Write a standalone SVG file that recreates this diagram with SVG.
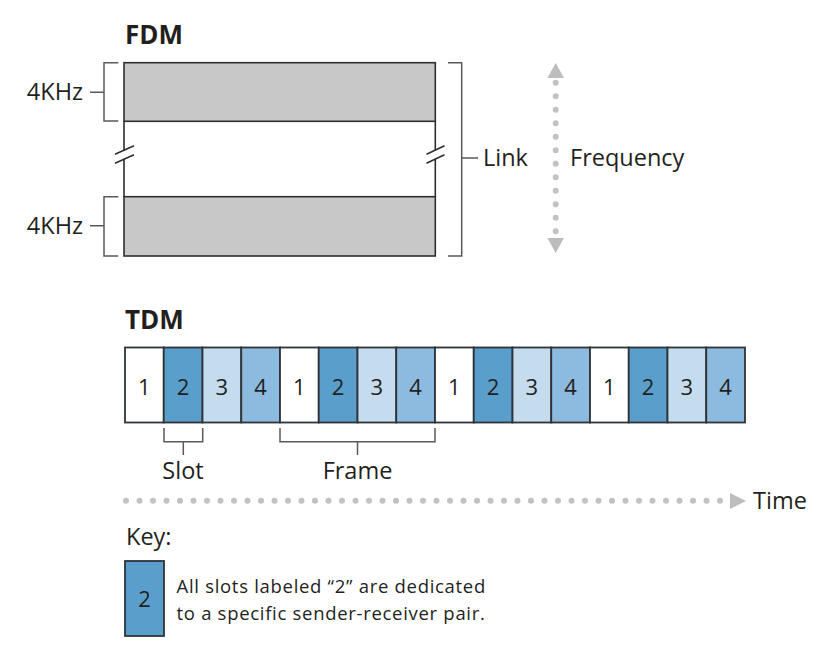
<svg xmlns="http://www.w3.org/2000/svg" width="832" height="661" viewBox="0 0 832 661">
<style>
text{font-family:"Open Sans","Noto Sans","DejaVu Sans",sans-serif;fill:#231f20}
.h{font-weight:bold;font-size:26px}
.l{font-size:23.5px}
.n{font-size:22px;text-anchor:middle}
.k{font-size:18.5px;letter-spacing:0.7px}
.band{fill:#c8c8c8;stroke:#2e2e2e;stroke-width:1.6}
.edge{fill:none;stroke:#2e2e2e;stroke-width:1.6}
.br{fill:none;stroke:#5a5a5a;stroke-width:1.5}
.slot{stroke:#2e3338;stroke-width:1.8}
.s1{fill:#ffffff}.s2{fill:#5a9fcb}.s3{fill:#c5dcee}.s4{fill:#8dbbdf}
.dots{fill:none;stroke:#c2c2c2;stroke-width:6;stroke-linecap:round;stroke-dasharray:0 13.5}
.ah{fill:#bdbdbd}
</style>

<g id="fdm">
<text class="h" x="125" y="44">FDM</text>
<rect id="band-top" class="band" x="124" y="62.7" width="311.3" height="58.6"/>
<rect id="band-bottom" class="band" x="124" y="196.7" width="311.3" height="59.3"/>
<path class="edge" d="M124,121.3V150.2M124,158.8V196.7M435.3,121.3V150.2M435.3,158.8V196.7"/>
<path class="edge" d="M115,154.2L134,145.8M115,163.2L134,154.8M426.5,154.2L444.5,145.8M426.5,163.2L444.5,154.8"/>
</g>

<g id="label-4khz-top">
<path class="br" d="M118.3,62.7H104V121H118.3M90,92.3H104"/>
<text class="l" x="83" y="99.5" text-anchor="end">4KHz</text>
</g>
<g id="label-4khz-bottom">
<path class="br" d="M118.3,196.7H104V256H118.3M90,225.7H104"/>
<text class="l" x="83" y="233.5" text-anchor="end">4KHz</text>
</g>
<g id="label-link">
<path class="br" d="M448,62.7H461.7V256H448M461.7,158H478"/>
<text class="l" x="483" y="165.5">Link</text>
</g>

<g id="connectors">
<g id="frequency-axis">
<path class="dots" d="M555.7,82.7V232"/>
<path class="ah" d="M555.7,63L564,78H547.4Z"/>
<path class="ah" d="M547.4,238H564L555.7,253Z"/>
</g>
<g id="time-axis">
<path class="dots" d="M126,500.7H721"/>
<path class="ah" d="M730,493L746,501L730,509Z"/>
</g>
</g>
<g id="label-frequency"><text class="l" x="570" y="165.5">Frequency</text></g>
<g id="label-time"><text class="l" x="753" y="508.5">Time</text></g>

<g id="tdm">
<text class="h" x="125" y="328.5">TDM</text>
<g id="slots">
<rect class="slot s1" x="125" y="347.5" width="38.75" height="75"/>
<rect class="slot s2" x="163.75" y="347.5" width="38.75" height="75"/>
<rect class="slot s3" x="202.5" y="347.5" width="38.75" height="75"/>
<rect class="slot s4" x="241.25" y="347.5" width="38.75" height="75"/>
<rect class="slot s1" x="280" y="347.5" width="38.75" height="75"/>
<rect class="slot s2" x="318.75" y="347.5" width="38.75" height="75"/>
<rect class="slot s3" x="357.5" y="347.5" width="38.75" height="75"/>
<rect class="slot s4" x="396.25" y="347.5" width="38.75" height="75"/>
<rect class="slot s1" x="435" y="347.5" width="38.75" height="75"/>
<rect class="slot s2" x="473.75" y="347.5" width="38.75" height="75"/>
<rect class="slot s3" x="512.5" y="347.5" width="38.75" height="75"/>
<rect class="slot s4" x="551.25" y="347.5" width="38.75" height="75"/>
<rect class="slot s1" x="590" y="347.5" width="38.75" height="75"/>
<rect class="slot s2" x="628.75" y="347.5" width="38.75" height="75"/>
<rect class="slot s3" x="667.5" y="347.5" width="38.75" height="75"/>
<rect class="slot s4" x="706.25" y="347.5" width="38.75" height="75"/>
</g>
<g id="slot-numbers">
<text class="n" x="144.4" y="394.5">1</text>
<text class="n" x="183.1" y="394.5">2</text>
<text class="n" x="221.9" y="394.5">3</text>
<text class="n" x="260.6" y="394.5">4</text>
<text class="n" x="299.4" y="394.5">1</text>
<text class="n" x="338.1" y="394.5">2</text>
<text class="n" x="376.9" y="394.5">3</text>
<text class="n" x="415.6" y="394.5">4</text>
<text class="n" x="454.4" y="394.5">1</text>
<text class="n" x="493.1" y="394.5">2</text>
<text class="n" x="531.9" y="394.5">3</text>
<text class="n" x="570.6" y="394.5">4</text>
<text class="n" x="609.4" y="394.5">1</text>
<text class="n" x="648.1" y="394.5">2</text>
<text class="n" x="686.9" y="394.5">3</text>
<text class="n" x="725.6" y="394.5">4</text>
</g>
</g>

<g id="label-slot">
<path class="br" d="M164,428V441.7H202.7V428M183.3,441.7V455"/>
<text class="l" x="183" y="479" text-anchor="middle">Slot</text>
</g>
<g id="label-frame">
<path class="br" d="M280,428V441.7H435V428M357.5,441.7V455"/>
<text class="l" x="357.5" y="479" text-anchor="middle">Frame</text>
</g>

<g id="key">
<text class="l" x="126" y="545">Key:</text>
<rect class="slot s2" x="125" y="561" width="39" height="75"/>
<text class="n" x="144.5" y="607">2</text>
<text class="k" x="176.5" y="592.5">All slots labeled “2” are dedicated</text>
<text class="k" x="176.5" y="619.5">to a specific sender-receiver pair.</text>
</g>
</svg>
